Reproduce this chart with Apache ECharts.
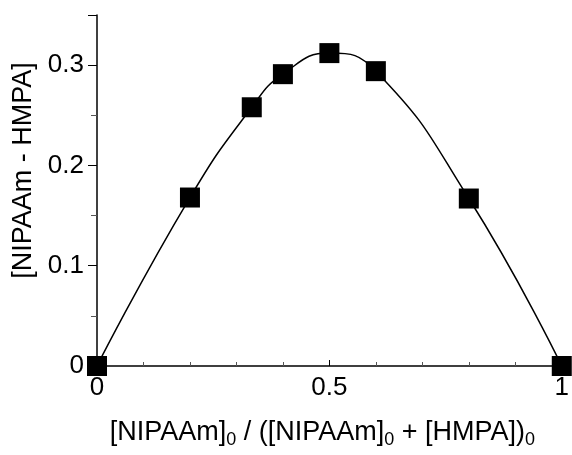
<!DOCTYPE html>
<html>
<head>
<meta charset="utf-8">
<script src="https://cdn.jsdelivr.net/npm/echarts@6/dist/echarts.min.js"></script>
<style>
  html, body { margin: 0; padding: 0; background: #fff; }
  #chart { width: 572px; height: 455px; }
</style>
</head>
<body>
<div id="chart"></div>
<script>
// mole fraction of NIPAAm in feed
const feedFraction = [0, 0.2, 0.333, 0.4, 0.5, 0.6, 0.8, 1];
// [NIPAAm - HMPA]
const pairValue = [0, 0.168, 0.258, 0.291, 0.312, 0.294, 0.167, 0];

const xTickLabels = {0: '0', 0.5: '0.5', 1: '1'};
const yTickLabels = {0: '0', 0.1: '0.1', 0.2: '0.2', 0.3: '0.3'};

const font = 'Liberation Sans, Arial, sans-serif';

let myChart = echarts.init(document.getElementById('chart'));

let points = [];
for (let i in feedFraction) {
    points.push([feedFraction[i], pairValue[i]]);
}

let options = {
    animation: false,
    grid: {
        left: 97,
        right: 7,
        top: 15,
        bottom: 89
    },
    xAxis: {
        type: 'value',
        min: 0,
        max: 1,
        interval: 0.5,
        name: '[NIPAAm]{sub|0} / ([NIPAAm]{sub|0} + [HMPA]){sub|0}',
        nameLocation: 'middle',
        nameGap: 51,
        nameTextStyle: {
            fontFamily: font,
            fontSize: 27,
            color: '#000',
            padding: [0, 14, 0, 0],
            rich: {
                sub: {fontFamily: font, fontSize: 18, color: '#000', padding: [14, 0, 0, 0]}
            }
        },
        axisLine: {lineStyle: {color: '#000', width: 1.5}},
        axisTick: {inside: true, length: 6, lineStyle: {color: '#000'}},
        minorTick: {show: true, splitNumber: 5, length: 4, lineStyle: {color: '#555'}},
        splitLine: {show: false},
        axisLabel: {
            margin: 9,
            fontFamily: font,
            fontSize: 26,
            color: '#000',
            formatter: function(v) { return xTickLabels[v] !== undefined ? xTickLabels[v] : ''; }
        }
    },
    yAxis: {
        type: 'value',
        min: 0,
        max: 0.35,
        interval: 0.1,
        name: '[NIPAAm - HMPA]',
        nameLocation: 'middle',
        nameGap: 56,
        nameTextStyle: {fontFamily: font, fontSize: 27, color: '#000', padding: [0, 0, 0, 40]},
        axisLine: {show: true, lineStyle: {color: '#000', width: 1.5}},
        axisTick: {show: true, inside: false, length: 9, lineStyle: {color: '#000'}},
        minorTick: {show: true, splitNumber: 2, length: 6, lineStyle: {color: '#555'}},
        splitLine: {show: false},
        axisLabel: {
            margin: 13,
            fontFamily: font,
            fontSize: 26,
            color: '#000',
            formatter: function(v) {
                let k = Math.round(v * 10) / 10;
                return Math.abs(k - v) < 1e-9 && yTickLabels[k] !== undefined ? yTickLabels[k] : '';
            }
        }
    },
    series: [{
        type: 'line',
        data: points,
        smooth: true,
        symbol: 'rect',
        symbolSize: 20,
        itemStyle: {color: '#000'},
        lineStyle: {color: '#000', width: 1.5},
        z: 3
    }]
};

myChart.setOption(options);
</script>
</body>
</html>
